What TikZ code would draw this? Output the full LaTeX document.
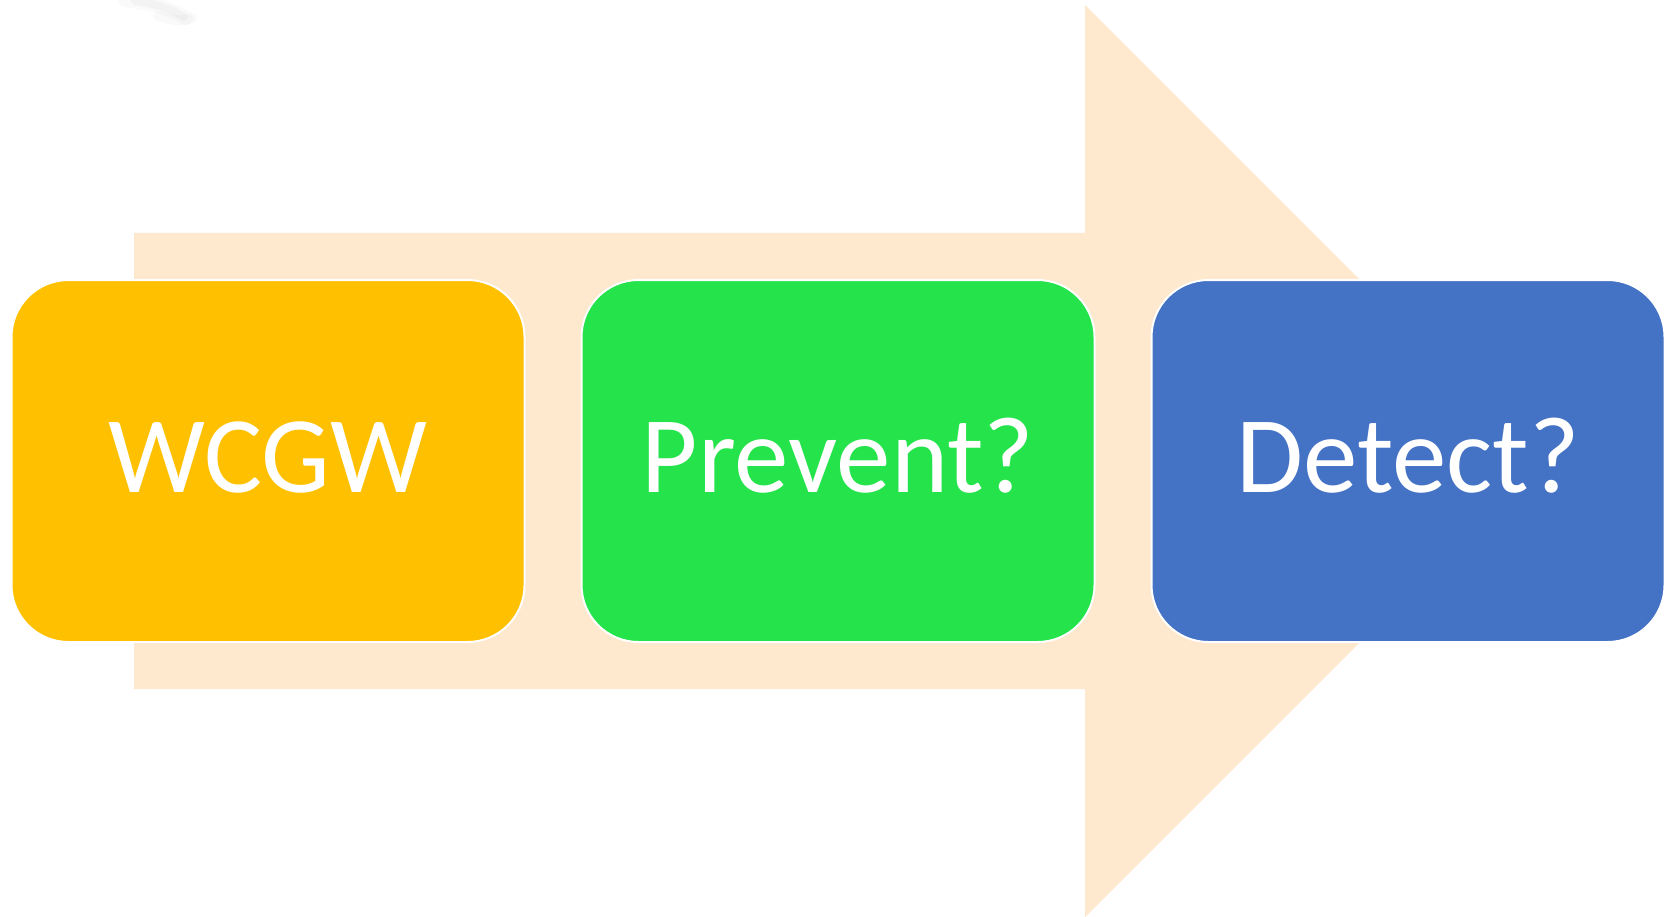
\documentclass[tikz,border=0pt]{standalone}
\usepackage{fontspec}
\setmainfont{Carlito}
\definecolor{arrowpeach}{HTML}{FEE8CE}
\definecolor{stageyellow}{HTML}{FFC000}
\definecolor{stagegreen}{HTML}{24E34B}
\definecolor{stageblue}{HTML}{4472C4}
\begin{document}
\begin{tikzpicture}[x=1pt,y=-1pt,
  stage/.style={draw=white, line width=2pt, rounded corners=57pt,
    minimum width=513pt, minimum height=362pt, inner sep=0pt,
    text=white, font=\fontsize{109}{120}\selectfont,
    text height=70pt, text depth=8pt},
  haze/.style={gray, line cap=round}]
\useasboundingbox (0,0) rectangle (1677,917);
\fill[white] (0,0) rectangle (1677,917);
% faint smudge in the top corner
\draw[haze, opacity=0.04, line width=14pt] (125,0) .. controls (150,3) and (170,8) .. (186,18);
\draw[haze, opacity=0.05, line width=8pt] (135,1) .. controls (155,4) and (172,9) .. (184,17);
\draw[haze, opacity=0.04, line width=10pt] (158,16) .. controls (172,20) and (182,22) .. (192,18);
% broad background arrow
\fill[arrowpeach] (134,233) -- (1085,233) -- (1085,5) -- (1541,461)
  -- (1085,917) -- (1085,689) -- (134,689) -- cycle;
% the three stages
\node[stage, fill=stageyellow] (wcgw) at (268,461) {WCGW};
\node[stage, fill=stagegreen] (prevent) at (838,461) {Prevent?};
\node[stage, fill=stageblue] (detect) at (1408,461) {Detect?};
\end{tikzpicture}
\end{document}
